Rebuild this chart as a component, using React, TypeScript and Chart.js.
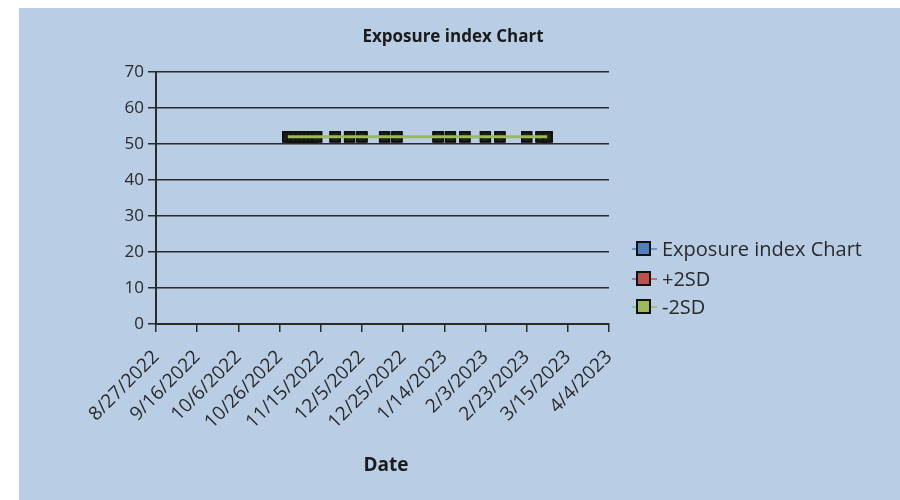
import React, { useEffect, useRef } from "react";
import { Chart, registerables } from "chart.js";

Chart.register(...registerables);

// ---- Data ----
const chartTitle = "Exposure index Chart";
const xAxisTitle = "Date";
const seriesNames = ["Exposure index Chart", "+2SD", "-2SD"];
const seriesColors = ["#4f81bd", "#c0504d", "#9bbb59"];

const dates = [
  "10/30/2022", "11/1/2022", "11/3/2022", "11/5/2022", "11/7/2022", "11/9/2022",
  "11/11/2022", "11/13/2022", "11/22/2022", "11/29/2022", "12/5/2022", "12/16/2022",
  "12/22/2022", "1/11/2023", "1/17/2023", "1/24/2023", "2/3/2023", "2/10/2023",
  "2/23/2023", "3/2/2023", "3/5/2023",
];
const exposureIndex = [52, 52, 52, 52, 52, 52, 52, 52, 52, 52, 52, 52, 52, 52, 52, 52, 52, 52, 52, 52, 52];
const plus2SD = [52, 52, 52, 52, 52, 52, 52, 52, 52, 52, 52, 52, 52, 52, 52, 52, 52, 52, 52, 52, 52];
const minus2SD = [52, 52, 52, 52, 52, 52, 52, 52, 52, 52, 52, 52, 52, 52, 52, 52, 52, 52, 52, 52, 52];

const xTickLabels = [
  "8/27/2022", "9/16/2022", "10/6/2022", "10/26/2022", "11/15/2022", "12/5/2022",
  "12/25/2022", "1/14/2023", "2/3/2023", "2/23/2023", "3/15/2023", "4/4/2023",
];
const xTickStepDays = 20;
const yMin = 0;
const yMax = 70;
const yStep = 10;

// ---- helpers ----
function dayNumber(s: string): number {
  const [m, d, y] = s.split("/").map(Number);
  return Date.UTC(y, m - 1, d) / 86400000;
}
const originDay = dayNumber(xTickLabels[0]);
const toPoints = (vals: number[]) =>
  dates.map((d, i) => ({ x: dayNumber(d) - originDay, y: vals[i] }));

const W = 881;
const H = 492;
const AREA_LEFT = 137;
const AREA_RIGHT = 590;
const AREA_TOP = 64;
const AREA_BOTTOM = 316;
const FONT = "'Open Sans', 'Noto Sans', sans-serif";
const TEXT = "#2a2a2a";
const GRID = "#2b2b2b";

const overlayPlugin = {
  id: "overlay",
  afterDraw(chart: any) {
    const ctx = chart.ctx;
    ctx.save();
    // title
    ctx.fillStyle = "#1a1a1a";
    ctx.font = `bold 17px ${FONT}`;
    ctx.textAlign = "center";
    ctx.textBaseline = "middle";
    ctx.fillText(chartTitle, 434, 29);
    // axis title
    ctx.font = `bold 19px ${FONT}`;
    ctx.fillText(xAxisTitle, 367, 458);
    // legend
    const rows = [241, 271, 299];
    ctx.font = `20px ${FONT}`;
    ctx.textAlign = "left";
    rows.forEach((y, i) => {
      ctx.strokeStyle = seriesColors[i];
      ctx.lineWidth = 1.5;
      ctx.beginPath();
      ctx.moveTo(613, y);
      ctx.lineTo(638, y);
      ctx.stroke();
      ctx.fillStyle = seriesColors[i];
      ctx.fillRect(618, y - 7, 13, 13);
      ctx.strokeStyle = "#111";
      ctx.lineWidth = 2;
      ctx.strokeRect(618, y - 7, 13, 13);
      ctx.fillStyle = TEXT;
      ctx.fillText(seriesNames[i], 643, y + 1);
    });
    ctx.restore();
  },
};

export default function App() {
  const ref = useRef<HTMLCanvasElement | null>(null);
  useEffect(() => {
    if (!ref.current) return;
    const markerStyle = {
      showLine: false,
      pointStyle: "rect",
      pointRadius: 6.5,
      pointBorderWidth: 2,
      pointBorderColor: "#111",
    };
    const chart = new Chart(ref.current, {
      type: "line",
      data: {
        datasets: [
          {
            label: seriesNames[0],
            data: toPoints(exposureIndex),
            borderColor: seriesColors[0],
            pointBackgroundColor: "#1f2b35",
            order: 4,
            ...markerStyle,
          },
          {
            label: seriesNames[1],
            data: toPoints(plus2SD),
            borderColor: seriesColors[1],
            pointBackgroundColor: "#2a2222",
            order: 3,
            ...markerStyle,
          },
          {
            label: seriesNames[2],
            data: toPoints(minus2SD),
            borderColor: seriesColors[2],
            pointBackgroundColor: "#1e2414",
            order: 2,
            ...markerStyle,
          },
          {
            label: seriesNames[2] + " line",
            data: toPoints(minus2SD),
            borderColor: seriesColors[2],
            borderWidth: 3,
            pointRadius: 0,
            order: 1,
          },
        ],
      } as any,
      options: {
        animation: false,
        responsive: false,
        devicePixelRatio: 1,
        layout: { padding: { top: AREA_TOP, right: W - AREA_RIGHT, bottom: 0, left: 0 } },
        plugins: { legend: { display: false }, title: { display: false }, tooltip: { enabled: false } },
        scales: {
          x: {
            type: "linear",
            min: 0,
            max: xTickStepDays * (xTickLabels.length - 1),
            afterFit: (s: any) => { s.height = H - AREA_BOTTOM; },
            afterBuildTicks: (s: any) => {
              s.ticks = xTickLabels.map((_, i) => ({ value: i * xTickStepDays }));
            },
            ticks: {
              autoSkip: false,
              maxRotation: 45,
              minRotation: 45,
              color: TEXT,
              font: { family: FONT, size: 19 },
              padding: 14,
              callback: (v: any) => xTickLabels[Math.round(Number(v) / xTickStepDays)] ?? "",
            },
            grid: { drawOnChartArea: false, drawTicks: true, tickLength: 8, color: GRID, lineWidth: 1.5 },
            border: { display: true, color: GRID, width: 2 },
          },
          y: {
            min: yMin,
            max: yMax,
            afterFit: (s: any) => { s.width = AREA_LEFT; },
            ticks: {
              stepSize: yStep,
              color: TEXT,
              font: { family: FONT, size: 17 },
              padding: 4,
            },
            grid: { color: GRID, lineWidth: 1.5, tickLength: 8 },
            border: { display: true, color: GRID, width: 2 },
          },
        },
      } as any,
      plugins: [overlayPlugin],
    });
    return () => chart.destroy();
  }, []);

  return (
    <div style={{ position: "absolute", left: 19, top: 8, width: W, height: H, background: "#b9cde5" }}>
      <canvas ref={ref} width={W} height={H} style={{ display: "block", width: W, height: H }} />
    </div>
  );
}
